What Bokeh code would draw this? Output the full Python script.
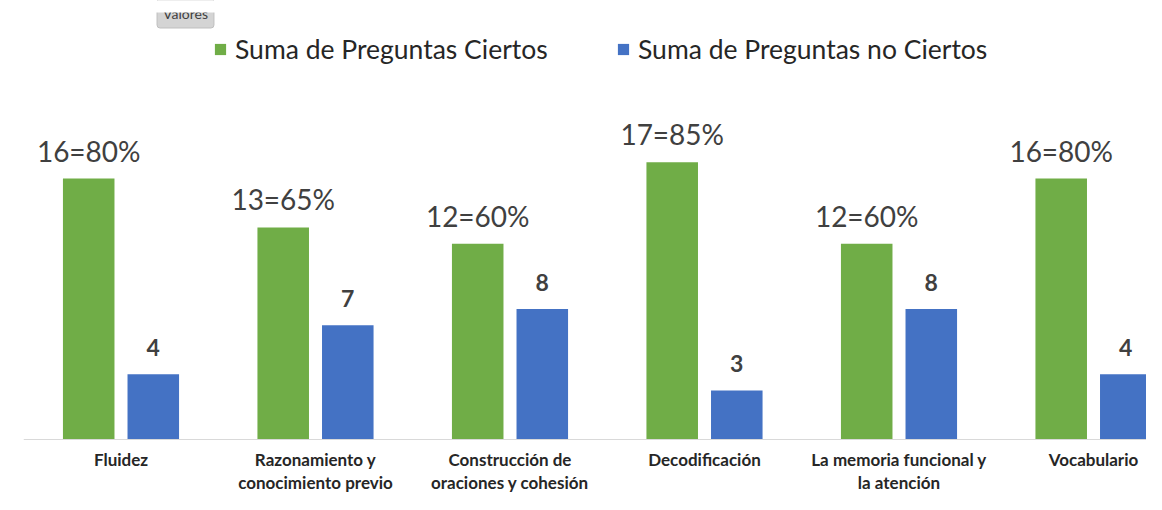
from bokeh.plotting import figure
from bokeh.models import ColumnDataSource, Range1d, Legend, LegendItem, Label, Span, BoxAnnotation
from bokeh.core.properties import value
from bokeh.transform import dodge
from bokeh.embed import file_html
from bokeh.resources import INLINE

categories = ["Fluidez", "Razonamiento y\nconocimiento previo", "Construcción de\noraciones y cohesión",
              "Decodificación", "La memoria funcional y\nla atención", "Vocabulario"]
ciertos = [16, 13, 12, 17, 12, 16]
no_ciertos = [4, 7, 8, 3, 8, 4]
total_preguntas = 20
series_names = ["Suma de Preguntas Ciertos", "Suma de Preguntas no Ciertos"]

GREEN = "#70AD47"
BLUE = "#4472C4"

# geometry of the frame (pixels)
W, H = 1146, 494
LEFT = 23
BASE = 439          # baseline pixel
PPU = 16.31         # pixels per value unit
STEP = 194.5        # pixels per category
C0 = 120.5          # centre of first category

x = list(range(len(categories)))
src = ColumnDataSource(dict(
    x=x,
    ciertos=ciertos,
    no_ciertos=no_ciertos,
    zero=[0] * len(x),
    cat=categories,
    lab_c=[f"{c}={round(c * 100 / total_preguntas)}%" for c in ciertos],
    lab_n=[str(n) for n in no_ciertos],
))

x0 = (LEFT - C0) / STEP
x1 = (W - C0) / STEP
y0 = -(H - BASE) / PPU
y1 = BASE / PPU

p = figure(width=W, height=H, output_backend="svg", toolbar_location=None,
           x_range=Range1d(x0, x1), y_range=Range1d(y0, y1))
p.min_border_left = LEFT
p.min_border_right = 0
p.min_border_top = 0
p.min_border_bottom = 0
p.outline_line_color = None
p.background_fill_color = "white"
p.border_fill_color = "white"
p.xgrid.visible = False
p.ygrid.visible = False
p.xaxis.visible = False
p.yaxis.visible = False

p.add_layout(Span(location=0, dimension="width", line_color="#D9D9D9", line_width=1))

off = 0.166
w = 0.265
r1 = p.vbar(x=dodge("x", -off), top="ciertos", width=w, source=src,
            fill_color=GREEN, line_color=None)
r2 = p.vbar(x=dodge("x", off), top="no_ciertos", width=w, source=src,
            fill_color=BLUE, line_color=None)

p.text(x=dodge("x", -off), y="ciertos", text="lab_c", source=src,
       text_align="center", text_baseline="alphabetic", y_offset=-28,
       text_font=value("Lato"), text_font_size="28px", text_color="#404040")
p.text(x=dodge("x", off), y="no_ciertos", text="lab_n", source=src,
       text_align="center", text_baseline="alphabetic", y_offset=-27,
       text_font=value("Lato"), text_font_size="23px", text_font_style="bold",
       text_color="#404040")

# category labels under the baseline
p.text(x="x", y="zero", text="cat", source=src,
       text_align="center", text_baseline="top", y_offset=9,
       text_font=value("Lato"), text_font_size="17px", text_font_style="bold",
       text_color="#262626", text_line_height=1.1)

for r, name, loc in [(r1, series_names[0], (190, 429)), (r2, series_names[1], (593, 429))]:
    lg = Legend(items=[LegendItem(label=name, renderers=[r])], location=loc,
                orientation="horizontal", padding=0, margin=0,
                border_line_color=None, background_fill_alpha=0,
                glyph_width=14, glyph_height=14, label_standoff=8,
                label_text_font="Lato", label_text_font_size="26.5px",
                label_text_color="#262626")
    p.add_layout(lg)

# pivot-chart field button, partly cut off at the top edge
btn = Label(x=162, y=H - 13, x_units="screen", y_units="screen", text="Valores",
            text_align="center", text_baseline="alphabetic",
            text_font="Lato", text_font_size="14px", text_color="#404040",
            background_fill_color="#D4D4D4", border_line_color="#BFBFBF",
            padding=6, border_radius=3)
p.add_layout(btn)
cover = BoxAnnotation(left=(148 - C0) / STEP, right=(224 - C0) / STEP,
                      top=y1, bottom=(BASE - 12) / PPU,
                      fill_color="white", fill_alpha=1, line_color=None, level="overlay")
p.add_layout(cover)

open("out.html", "w").write(file_html(p, INLINE))
